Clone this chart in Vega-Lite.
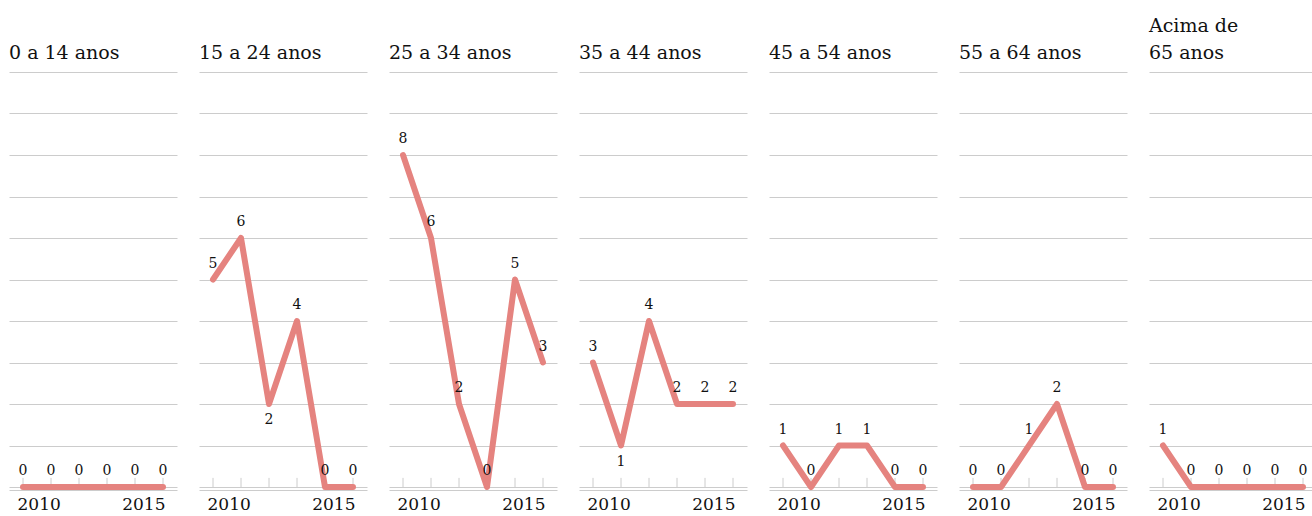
{
  "$schema": "https://vega.github.io/schema/vega-lite/v6.json",
  "padding": {"left": 9, "top": 17, "right": 0, "bottom": 0},
  "background": "white",
  "data": {"values": [
    {"grupo": "0 a 14 anos", "ano": 2010, "v": 0},
    {"grupo": "0 a 14 anos", "ano": 2011, "v": 0},
    {"grupo": "0 a 14 anos", "ano": 2012, "v": 0},
    {"grupo": "0 a 14 anos", "ano": 2013, "v": 0},
    {"grupo": "0 a 14 anos", "ano": 2014, "v": 0},
    {"grupo": "0 a 14 anos", "ano": 2015, "v": 0},
    {"grupo": "15 a 24 anos", "ano": 2010, "v": 5},
    {"grupo": "15 a 24 anos", "ano": 2011, "v": 6},
    {"grupo": "15 a 24 anos", "ano": 2012, "v": 2},
    {"grupo": "15 a 24 anos", "ano": 2013, "v": 4},
    {"grupo": "15 a 24 anos", "ano": 2014, "v": 0},
    {"grupo": "15 a 24 anos", "ano": 2015, "v": 0},
    {"grupo": "25 a 34 anos", "ano": 2010, "v": 8},
    {"grupo": "25 a 34 anos", "ano": 2011, "v": 6},
    {"grupo": "25 a 34 anos", "ano": 2012, "v": 2},
    {"grupo": "25 a 34 anos", "ano": 2013, "v": 0},
    {"grupo": "25 a 34 anos", "ano": 2014, "v": 5},
    {"grupo": "25 a 34 anos", "ano": 2015, "v": 3},
    {"grupo": "35 a 44 anos", "ano": 2010, "v": 3},
    {"grupo": "35 a 44 anos", "ano": 2011, "v": 1},
    {"grupo": "35 a 44 anos", "ano": 2012, "v": 4},
    {"grupo": "35 a 44 anos", "ano": 2013, "v": 2},
    {"grupo": "35 a 44 anos", "ano": 2014, "v": 2},
    {"grupo": "35 a 44 anos", "ano": 2015, "v": 2},
    {"grupo": "45 a 54 anos", "ano": 2010, "v": 1},
    {"grupo": "45 a 54 anos", "ano": 2011, "v": 0},
    {"grupo": "45 a 54 anos", "ano": 2012, "v": 1},
    {"grupo": "45 a 54 anos", "ano": 2013, "v": 1},
    {"grupo": "45 a 54 anos", "ano": 2014, "v": 0},
    {"grupo": "45 a 54 anos", "ano": 2015, "v": 0},
    {"grupo": "55 a 64 anos", "ano": 2010, "v": 0},
    {"grupo": "55 a 64 anos", "ano": 2011, "v": 0},
    {"grupo": "55 a 64 anos", "ano": 2012, "v": 1},
    {"grupo": "55 a 64 anos", "ano": 2013, "v": 2},
    {"grupo": "55 a 64 anos", "ano": 2014, "v": 0},
    {"grupo": "55 a 64 anos", "ano": 2015, "v": 0},
    {"grupo": "Acima de 65 anos", "ano": 2010, "v": 1},
    {"grupo": "Acima de 65 anos", "ano": 2011, "v": 0},
    {"grupo": "Acima de 65 anos", "ano": 2012, "v": 0},
    {"grupo": "Acima de 65 anos", "ano": 2013, "v": 0},
    {"grupo": "Acima de 65 anos", "ano": 2014, "v": 0},
    {"grupo": "Acima de 65 anos", "ano": 2015, "v": 0}
  ]},
  "facet": {
    "column": {
      "field": "grupo",
      "type": "nominal",
      "sort": ["0 a 14 anos", "15 a 24 anos", "25 a 34 anos", "35 a 44 anos", "45 a 54 anos", "55 a 64 anos", "Acima de 65 anos"],
      "title": null,
      "header": {
        "labelOrient": "top",
        "labelAnchor": "start",
        "labelAlign": "left",
        "labelBaseline": "bottom",
        "labelFont": "DejaVu Serif",
        "labelFontSize": 19,
        "labelColor": "#111111",
        "labelPadding": -10,
        "labelLineHeight": 27,
        "labelExpr": "datum.value == 'Acima de 65 anos' ? ['Acima de', '65 anos'] : datum.label"
      }
    }
  },
  "spacing": 22,
  "spec": {
    "width": 168,
    "height": 415,
    "transform": [
      {"window": [{"op": "lag", "field": "v", "as": "prev"}, {"op": "lead", "field": "v", "as": "next"}], "groupby": ["grupo"], "sort": [{"field": "ano"}]},
      {"calculate": "datum.v > 0 && datum.prev != null && datum.next != null && datum.v < datum.prev && datum.v < datum.next ? 'baixo' : 'cima'", "as": "lado"}
    ],
    "encoding": {
      "x": {
        "field": "ano",
        "type": "quantitative",
        "scale": {"domain": [2009.5, 2015.5], "nice": false, "zero": false},
        "axis": {
          "title": null,
          "values": [2010, 2011, 2012, 2013, 2014, 2015],
          "labelExpr": "datum.value == 2010 || datum.value == 2015 ? datum.value : ''",
          "labelFont": "DejaVu Serif",
          "labelFontSize": 17,
          "labelColor": "#111111",
          "labelPadding": 6,
          "labelAlign": {"condition": {"test": "datum.value == 2010", "value": "left"}, "value": "right"},
          "labelOffset": {"condition": {"test": "datum.value == 2010", "value": -6}, "value": 2},
          "ticks": false,
          "domainColor": "#cccccc",
          "grid": false
        }
      },
      "y": {
        "field": "v",
        "type": "quantitative",
        "scale": {"domain": [0, 10], "nice": false},
        "axis": {
          "title": null,
          "values": [0, 1, 2, 3, 4, 5, 6, 7, 8, 9, 10],
          "labels": false,
          "ticks": false,
          "domain": false,
          "grid": true,
          "gridColor": "#cccccc",
          "gridWidth": 1
        }
      }
    },
    "layer": [
      {
        "mark": {"type": "rule", "color": "#cccccc", "strokeWidth": 1},
        "encoding": {"y": {"datum": 0}, "y2": {"datum": 0.22}}
      },
      {"mark": {"type": "line", "color": "#e5837f", "strokeWidth": 6, "strokeCap": "round", "strokeJoin": "round"}},
      {
        "transform": [{"filter": "datum.lado == 'cima'"}],
        "mark": {"type": "text", "font": "DejaVu Serif", "fontSize": 14, "color": "#111111", "dy": -16},
        "encoding": {"text": {"field": "v", "type": "quantitative"}}
      },
      {
        "transform": [{"filter": "datum.lado == 'baixo'"}],
        "mark": {"type": "text", "font": "DejaVu Serif", "fontSize": 14, "color": "#111111", "dy": 16},
        "encoding": {"text": {"field": "v", "type": "quantitative"}}
      }
    ]
  },
  "config": {"view": {"stroke": null}}
}
